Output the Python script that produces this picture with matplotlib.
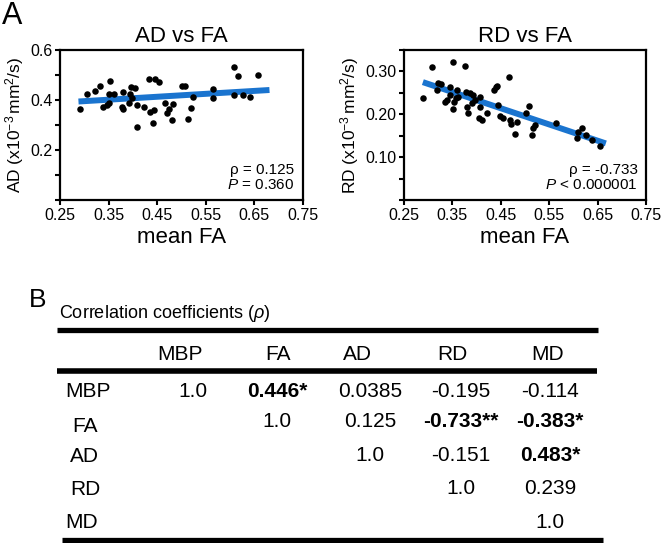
import matplotlib
matplotlib.use("Agg")
import matplotlib.pyplot as plt
import numpy as np

plt.rcParams['font.family'] = ['Liberation Sans', 'DejaVu Sans']
plt.rcParams['mathtext.fontset'] = 'custom'
plt.rcParams['mathtext.rm'] = 'Liberation Sans'
plt.rcParams['mathtext.it'] = 'Liberation Sans:italic'
plt.rcParams['mathtext.bf'] = 'Liberation Sans:bold'

# ---------------- data: AD vs FA ----------------
ad_fa = [0.291, 0.306, 0.322, 0.332, 0.353, 0.351, 0.362, 0.339, 0.347, 0.351,
         0.377, 0.379, 0.380, 0.396, 0.404, 0.394, 0.398, 0.393, 0.408, 0.408,
         0.423, 0.434, 0.446, 0.454, 0.435, 0.443, 0.442, 0.466, 0.470, 0.475,
         0.482, 0.480, 0.500, 0.507, 0.524, 0.519, 0.514, 0.565, 0.564, 0.607,
         0.617, 0.607, 0.627, 0.640, 0.658]
ad_val = [0.363, 0.424, 0.436, 0.456, 0.477, 0.424, 0.424, 0.371, 0.380, 0.387,
          0.373, 0.363, 0.431, 0.453, 0.447, 0.424, 0.407, 0.389, 0.380, 0.293,
          0.373, 0.483, 0.483, 0.473, 0.353, 0.360, 0.307, 0.387, 0.347, 0.363,
          0.384, 0.320, 0.456, 0.456, 0.411, 0.367, 0.323, 0.443, 0.407, 0.533,
          0.496, 0.420, 0.420, 0.413, 0.500]
ad_fit_fa = [0.288, 0.681]
ad_fit_val = [0.394, 0.440]

# ---------------- data: RD vs FA ----------------
rd_fa = [0.290, 0.307, 0.321, 0.318, 0.326, 0.335, 0.338, 0.345, 0.346, 0.351,
         0.352, 0.353, 0.360, 0.357, 0.362, 0.377, 0.378, 0.380, 0.383, 0.386,
         0.390, 0.392, 0.397, 0.407, 0.408, 0.404, 0.411, 0.422, 0.436, 0.440,
         0.443, 0.445, 0.448, 0.455, 0.466, 0.469, 0.472, 0.479, 0.483, 0.502,
         0.509, 0.514, 0.517, 0.521, 0.564, 0.607, 0.610, 0.617, 0.627, 0.638,
         0.655]
rd_val = [0.237, 0.311, 0.272, 0.257, 0.271, 0.229, 0.233, 0.263, 0.245, 0.212,
          0.323, 0.229, 0.257, 0.237, 0.241, 0.313, 0.253, 0.216, 0.204, 0.249,
          0.226, 0.245, 0.233, 0.241, 0.216, 0.191, 0.187, 0.202, 0.257, 0.263,
          0.266, 0.222, 0.196, 0.191, 0.288, 0.187, 0.177, 0.154, 0.183, 0.204,
          0.219, 0.152, 0.167, 0.175, 0.180, 0.144, 0.159, 0.167, 0.152, 0.140,
          0.126]
rd_fit_fa = [0.289, 0.667]
rd_fit_val = [0.275, 0.132]

x_ticks = [0.25, 0.35, 0.45, 0.55, 0.65, 0.75]
ad_yticks = [0.0, 0.1, 0.2, 0.3, 0.4, 0.5, 0.6]
ad_ylabels = ['', '', '0.2', '', '0.4', '', '0.6']
rd_yticks = [0.0, 0.05, 0.10, 0.15, 0.20, 0.25, 0.30, 0.35]
rd_ylabels = ['', '', '0.10', '', '0.20', '', '0.30', '']

ad_stats = [r'ρ = 0.125', r'$P$ = 0.360']
rd_stats = [r'ρ = -0.733', r'$P$ < 0.000001']

# ---------------- data: table ----------------
col_labels = ['MBP', 'FA', 'AD', 'RD', 'MD']
row_labels = ['MBP', 'FA', 'AD', 'RD', 'MD']
cells = [
    ['1.0', '0.446*', '0.0385', '-0.195', '-0.114'],
    ['', '1.0', '0.125', '-0.733**', '-0.383*'],
    ['', '', '1.0', '-0.151', '0.483*'],
    ['', '', '', '1.0', '0.239'],
    ['', '', '', '', '1.0'],
]
bold = [
    [False, True, False, False, False],
    [False, False, False, True, True],
    [False, False, False, False, True],
    [False, False, False, False, False],
    [False, False, False, False, False],
]

W, H = 663, 543
fig = plt.figure(figsize=(W / 100, H / 100), dpi=100)

def px_axes(x0, y0, x1, y1):
    return fig.add_axes([x0 / W, 1 - y1 / H, (x1 - x0) / W, (y1 - y0) / H])

blue = '#1a74cf'

def scatter_panel(ax, xs, ys, fx, fy, yticks, ylabels, ylim, title, ylabel, stats):
    ax.scatter(xs, ys, s=22, color='black', zorder=3, linewidths=0)
    ax.plot(fx, fy, color=blue, lw=4.3, solid_capstyle='butt', zorder=2)
    ax.set_xlim(0.25, 0.75)
    ax.set_ylim(*ylim)
    ax.set_xticks(x_ticks)
    ax.set_xticklabels([f'{t:.2f}' for t in x_ticks], fontsize=11.5)
    ax.set_yticks(yticks)
    ax.set_yticklabels(ylabels, fontsize=11.5)
    for sp in ax.spines.values():
        sp.set_linewidth(1.6)
    ax.tick_params(direction='out', length=3.5, width=1.5, pad=2)
    ax.set_title(title, fontsize=16, pad=6)
    ax.set_xlabel('mean FA', fontsize=16, labelpad=3)
    ax.set_ylabel(ylabel, fontsize=12.5, labelpad=3)
    ax.text(0.965, 0.175, stats[0], transform=ax.transAxes, ha='right', va='baseline', fontsize=11)
    ax.text(0.965, 0.075, stats[1], transform=ax.transAxes, ha='right', va='baseline', fontsize=11)

ax1 = px_axes(60, 50, 303, 200)
scatter_panel(ax1, ad_fa, ad_val, ad_fit_fa, ad_fit_val, ad_yticks, ad_ylabels, (0, 0.6),
              'AD vs FA', r'AD (x10$^{-3}$$\,$mm$^{2}$/s)', ad_stats)

ax2 = px_axes(404, 50, 646, 200)
scatter_panel(ax2, rd_fa, rd_val, rd_fit_fa, rd_fit_val, rd_yticks, rd_ylabels, (0, 0.35),
              'RD vs FA', r'RD (x10$^{-3}$$\,$mm$^{2}$/s)', rd_stats)

# ---------------- overlay for labels and table ----------------
ov = fig.add_axes([0, 0, 1, 1], zorder=-1)
ov.set_xlim(0, W)
ov.set_ylim(H, 0)
ov.axis('off')

ov.text(2, 24, 'A', fontsize=22, va='baseline', ha='left')
ov.text(29, 307, 'B', fontsize=19, va='baseline', ha='left')
ov.text(59, 318, r'Correlation coefficients ($\it{ρ}$)', fontsize=13, va='baseline', ha='left')

ov.plot([57, 598], [329.5, 329.5], color='black', lw=3.8, solid_capstyle='butt')
ov.plot([57, 597], [371, 371], color='black', lw=4.0, solid_capstyle='butt')
ov.plot([62, 603], [539.5, 539.5], color='black', lw=3.8, solid_capstyle='butt')

header_x = [180, 278, 357, 452, 548]
for lab, x in zip(col_labels, header_x):
    ov.text(x, 360, lab, fontsize=15, ha='center', va='baseline')

row_label_x = [65, 72, 70, 70, 65]
row_label_y = [397, 432, 462, 495, 528]
value_y = [397, 427, 461, 494, 528]
col_x = [193, 277, 370, 461, 550]
for i, lab in enumerate(row_labels):
    ov.text(row_label_x[i], row_label_y[i], lab, fontsize=15, ha='left', va='baseline')
    for j, val in enumerate(cells[i]):
        if val:
            ov.text(col_x[j], value_y[i], val, fontsize=15, ha='center', va='baseline',
                    fontweight='bold' if bold[i][j] else 'normal')

fig.savefig('out.png', dpi=100)
